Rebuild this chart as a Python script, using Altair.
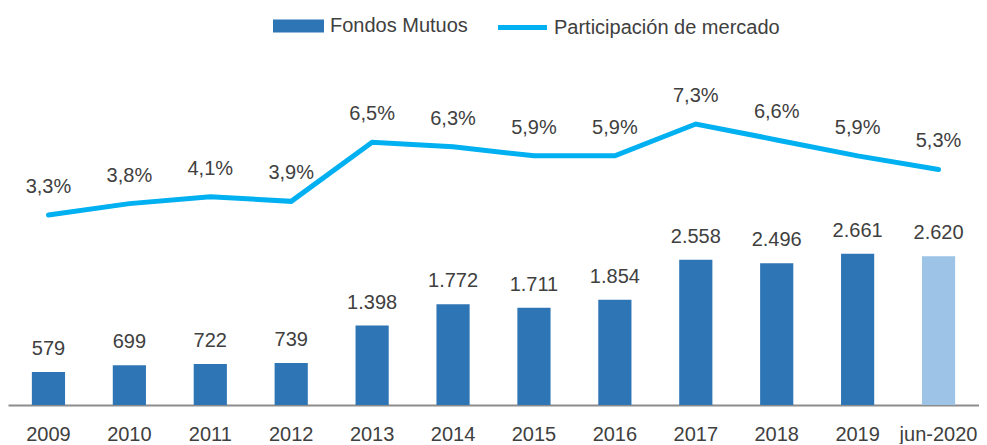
import altair as alt
import pandas as pd

years = ["2009", "2010", "2011", "2012", "2013", "2014", "2015", "2016",
         "2017", "2018", "2019", "jun-2020"]
fondos = [579, 699, 722, 739, 1398, 1772, 1711, 1854, 2558, 2496, 2661, 2620]
participacion = [3.3, 3.8, 4.1, 3.9, 6.5, 6.3, 5.9, 5.9, 7.3, 6.6, 5.9, 5.3]

SER_BAR = "Fondos Mutuos"
SER_LINE = "Participación de mercado"

FONT = "Liberation Sans, Arial, sans-serif"
FS = 20
TXT = "#404040"

df = pd.DataFrame({
    "year": years,
    "fondos": fondos,
    "part": participacion,
    "flab": [f"{v:,}".replace(",", ".") for v in fondos],
    "plab": [f"{v:.1f}%".replace(".", ",") for v in participacion],
    "sb": SER_BAR,
    "sl": SER_LINE,
})

xenc = alt.X("year:N", sort=years, title=None,
             scale=alt.Scale(paddingInner=0.59, paddingOuter=0.295),
             axis=alt.Axis(labelAngle=0, labelFont=FONT, labelFontSize=FS,
                           labelColor=TXT, labelPadding=19, ticks=False,
                           domainColor="#8c8c8c", domainWidth=2, grid=False))

ybar = alt.Y("fondos:Q", axis=None, scale=alt.Scale(domain=[0, 6987], nice=False, zero=True))
yline = alt.Y("part:Q", axis=None, scale=alt.Scale(domain=[-5.052, 12.399], nice=False, zero=False))

base = alt.Chart(df)

bars = base.mark_bar().encode(
    x=xenc, y=ybar,
    fill=alt.condition(
        alt.datum.year == "jun-2020", alt.value("#9DC3E6"),
        alt.Fill("sb:N", scale=alt.Scale(domain=[SER_BAR], range=["#2E75B6"]),
                 legend=alt.Legend(title=None, orient="none", legendX=264, legendY=7,
                                   labelFont=FONT, labelFontSize=FS, labelColor=TXT,
                                   labelLimit=400, labelOffset=36, symbolSize=400,
                                   symbolOpacity=1, symbolType="M-1,-0.65H4.1V0.65H-1Z"))),
)
bar_text = base.mark_text(font=FONT, fontSize=FS, color=TXT, baseline="alphabetic", dy=-17).encode(
    x=xenc, y=ybar, text="flab:N")

line = base.mark_line(strokeWidth=5, strokeCap="round", strokeJoin="miter").encode(
    x=xenc, y=yline,
    stroke=alt.Stroke("sl:N", scale=alt.Scale(domain=[SER_LINE], range=["#00B0F0"]),
                      legend=alt.Legend(title=None, orient="none", legendX=485, legendY=7,
                                        labelFont=FONT, labelFontSize=FS, labelColor=TXT,
                                        labelLimit=400, labelOffset=36, symbolSize=400,
                                        symbolStrokeWidth=5, symbolOpacity=1,
                                        symbolType="M-0.75,0H4.15")),
)
line_text = base.mark_text(font=FONT, fontSize=FS, color=TXT, baseline="alphabetic", dy=-22).encode(
    x=xenc, y=yline, text="plab:N")

chart = alt.layer(
    alt.layer(bars, bar_text),
    alt.layer(line, line_text),
).resolve_scale(y="independent").properties(
    width=971, height=397, padding=0, background="white",
).configure_view(strokeWidth=0)

chart.save("out.html", embed_options={"renderer": "svg", "actions": False})
